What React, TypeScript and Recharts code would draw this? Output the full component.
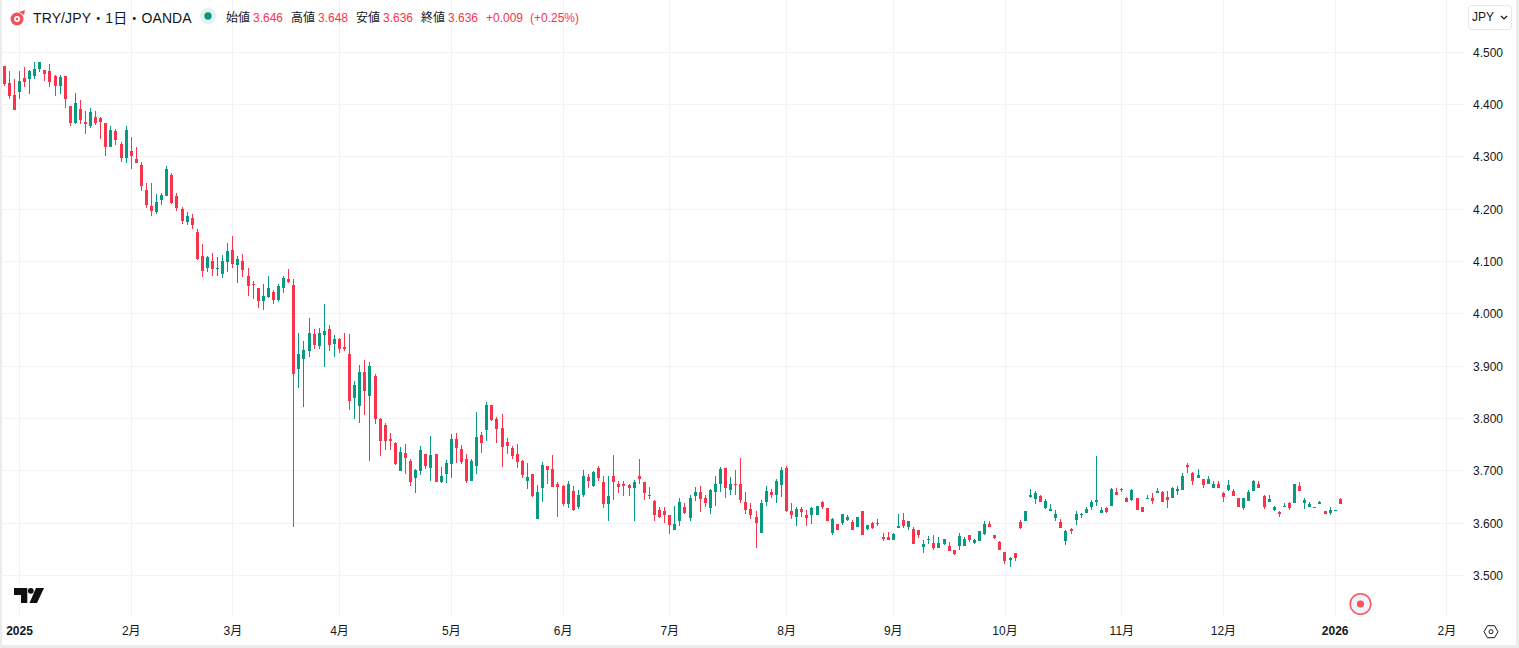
import React from "react";
import { ComposedChart, Bar, XAxis, YAxis, CartesianGrid } from "recharts";

const opens = [
  4.474,4.441,4.418,4.425,4.451,4.448,4.455,4.469,4.466,4.464,
  4.455,4.435,4.455,4.397,4.365,4.391,4.366,4.359,4.376,4.374,
  4.365,4.319,4.349,4.324,4.298,4.311,4.296,4.285,4.237,4.206,
  4.195,4.218,4.225,4.266,4.225,4.201,4.176,4.183,4.157,4.111,
  4.088,4.101,4.086,4.076,4.099,4.122,4.094,4.101,4.073,4.057,
  4.050,4.025,4.032,4.042,4.027,4.050,4.067,4.055,3.894,3.914,
  3.929,3.961,3.938,3.959,3.971,3.942,3.952,3.936,3.923,3.839,
  3.824,3.889,3.843,3.881,3.799,3.788,3.761,3.753,3.700,3.734,
  3.719,3.686,3.700,3.732,3.706,3.732,3.679,3.694,3.713,3.761,
  3.742,3.723,3.681,3.709,3.769,3.778,3.826,3.799,3.782,3.755,
  3.744,3.732,3.719,3.680,3.694,3.609,3.667,3.709,3.703,3.675,
  3.671,3.636,3.661,3.632,3.655,3.688,3.671,3.705,3.678,3.636,
  3.690,3.675,3.676,3.673,3.667,3.690,3.678,3.654,3.642,3.625,
  3.623,3.615,3.587,3.604,3.632,3.611,3.652,3.659,3.648,3.629,
  3.659,3.675,3.705,3.663,3.676,3.676,3.640,3.627,3.613,3.581,
  3.640,3.659,3.655,3.673,3.705,3.623,3.613,3.627,3.615,3.615,
  3.615,3.640,3.629,3.582,3.599,3.601,3.606,3.603,3.593,3.624,
  3.589,3.601,3.599,3.574,3.574,3.568,3.591,3.606,3.593,3.589,
  3.587,3.555,3.568,3.562,3.553,3.561,3.557,3.549,3.557,3.557,
  3.578,3.562,3.566,3.580,3.599,3.578,3.564,3.545,3.530,3.543,
  3.602,3.604,3.650,3.646,3.653,3.629,3.623,3.611,3.602,3.566,
  3.590,3.606,3.615,3.619,3.632,3.640,3.619,3.629,3.634,3.659,
  3.665,3.648,3.644,3.648,3.632,3.646,3.648,3.657,3.659,3.650,
  3.648,3.661,3.664,3.712,3.697,3.687,3.685,3.676,3.668,3.676,
  3.657,3.664,3.662,3.649,3.630,3.643,3.661,3.676,3.653,3.641,
  3.626,3.622,3.632,3.639,3.639,3.672,3.638,3.632,3.630,3.636,
  3.624,3.620,3.624,3.646,
];
const closes = [
  4.439,4.417,4.390,4.445,4.444,4.464,4.468,4.481,4.459,4.444,
  4.436,4.453,4.411,4.365,4.403,4.371,4.363,4.386,4.365,4.366,
  4.319,4.351,4.333,4.298,4.351,4.302,4.288,4.245,4.208,4.197,
  4.214,4.227,4.277,4.212,4.203,4.178,4.187,4.170,4.105,4.082,
  4.109,4.086,4.088,4.101,4.120,4.096,4.105,4.084,4.053,4.055,
  4.025,4.034,4.050,4.027,4.053,4.069,4.061,3.885,3.923,3.931,
  3.963,3.940,3.963,3.967,3.940,3.952,3.934,3.933,3.833,3.864,
  3.889,3.852,3.900,3.799,3.757,3.757,3.757,3.713,3.736,3.725,
  3.679,3.702,3.740,3.709,3.730,3.679,3.690,3.715,3.761,3.744,
  3.717,3.681,3.719,3.765,3.753,3.826,3.797,3.780,3.746,3.748,
  3.728,3.717,3.692,3.688,3.653,3.659,3.711,3.701,3.669,3.669,
  3.636,3.675,3.625,3.655,3.690,3.680,3.698,3.686,3.636,3.653,
  3.678,3.669,3.671,3.667,3.678,3.684,3.657,3.652,3.615,3.613,
  3.615,3.596,3.598,3.640,3.619,3.648,3.659,3.646,3.638,3.663,
  3.676,3.703,3.667,3.675,3.675,3.644,3.625,3.615,3.600,3.638,
  3.661,3.655,3.680,3.701,3.623,3.615,3.627,3.621,3.610,3.629,
  3.634,3.632,3.604,3.608,3.587,3.618,3.612,3.587,3.612,3.578,
  3.597,3.591,3.601,3.570,3.568,3.580,3.595,3.595,3.604,3.561,
  3.578,3.561,3.570,3.553,3.562,3.570,3.547,3.541,3.576,3.570,
  3.568,3.568,3.585,3.599,3.593,3.572,3.549,3.528,3.534,3.534,
  3.592,3.623,3.655,3.657,3.640,3.642,3.627,3.617,3.592,3.585,
  3.585,3.617,3.617,3.627,3.640,3.644,3.625,3.621,3.665,3.655,
  3.663,3.640,3.663,3.625,3.621,3.648,3.642,3.661,3.640,3.644,
  3.667,3.665,3.691,3.708,3.680,3.693,3.674,3.685,3.676,3.668,
  3.651,3.674,3.653,3.632,3.649,3.659,3.680,3.668,3.632,3.647,
  3.632,3.618,3.634,3.630,3.676,3.662,3.645,3.636,3.632,3.641,
  3.617,3.626,3.626,3.636,
];
const highs = [
  4.474,4.464,4.449,4.464,4.472,4.466,4.481,4.481,4.466,4.478,
  4.457,4.457,4.455,4.397,4.422,4.409,4.388,4.393,4.388,4.376,
  4.365,4.359,4.353,4.328,4.359,4.338,4.319,4.290,4.250,4.250,
  4.229,4.231,4.283,4.269,4.231,4.204,4.195,4.191,4.162,4.134,
  4.111,4.117,4.109,4.113,4.136,4.149,4.111,4.115,4.088,4.063,
  4.050,4.057,4.073,4.046,4.057,4.073,4.086,4.067,3.963,3.948,
  3.992,3.971,3.973,4.020,3.978,3.959,3.955,3.963,3.961,3.872,
  3.902,3.912,3.908,3.885,3.801,3.791,3.772,3.755,3.746,3.751,
  3.723,3.704,3.748,3.732,3.767,3.732,3.707,3.721,3.770,3.772,
  3.749,3.732,3.723,3.812,3.774,3.832,3.826,3.803,3.809,3.763,
  3.748,3.751,3.721,3.715,3.694,3.673,3.717,3.709,3.730,3.678,
  3.673,3.680,3.671,3.663,3.701,3.694,3.700,3.709,3.690,3.690,
  3.730,3.680,3.680,3.676,3.682,3.723,3.678,3.669,3.644,3.632,
  3.632,3.615,3.634,3.648,3.638,3.655,3.669,3.671,3.655,3.665,
  3.690,3.707,3.705,3.688,3.701,3.724,3.659,3.638,3.623,3.644,
  3.671,3.665,3.684,3.707,3.709,3.638,3.632,3.632,3.625,3.631,
  3.634,3.642,3.629,3.610,3.599,3.618,3.616,3.606,3.612,3.624,
  3.597,3.603,3.608,3.582,3.583,3.582,3.618,3.620,3.604,3.593,
  3.587,3.568,3.576,3.578,3.574,3.570,3.564,3.549,3.582,3.574,
  3.578,3.570,3.585,3.604,3.604,3.578,3.566,3.545,3.536,3.543,
  3.606,3.623,3.665,3.661,3.655,3.646,3.636,3.625,3.608,3.587,
  3.592,3.623,3.619,3.631,3.644,3.728,3.632,3.632,3.667,3.667,
  3.667,3.650,3.665,3.648,3.632,3.654,3.657,3.667,3.661,3.661,
  3.669,3.671,3.697,3.716,3.699,3.703,3.685,3.691,3.680,3.680,
  3.659,3.682,3.666,3.649,3.649,3.664,3.682,3.680,3.655,3.655,
  3.634,3.624,3.639,3.641,3.676,3.678,3.649,3.641,3.632,3.643,
  3.624,3.632,3.626,3.648,
];
const lows = [
  4.435,4.411,4.390,4.411,4.434,4.421,4.449,4.463,4.445,4.434,
  4.417,4.421,4.394,4.359,4.363,4.363,4.344,4.356,4.361,4.334,
  4.302,4.319,4.323,4.290,4.288,4.277,4.288,4.235,4.203,4.187,
  4.191,4.208,4.225,4.210,4.197,4.172,4.170,4.162,4.103,4.071,
  4.080,4.073,4.073,4.069,4.080,4.088,4.059,4.071,4.034,4.029,
  4.011,4.008,4.031,4.019,4.023,4.040,4.059,3.593,3.858,3.822,
  3.917,3.934,3.934,3.898,3.929,3.917,3.925,3.929,3.816,3.799,
  3.791,3.807,3.719,3.789,3.728,3.740,3.740,3.711,3.700,3.694,
  3.671,3.658,3.692,3.704,3.681,3.679,3.677,3.677,3.686,3.715,
  3.713,3.677,3.681,3.694,3.734,3.757,3.796,3.753,3.707,3.732,
  3.723,3.705,3.686,3.665,3.650,3.609,3.640,3.675,3.669,3.613,
  3.634,3.630,3.623,3.627,3.650,3.667,3.669,3.680,3.630,3.605,
  3.644,3.657,3.653,3.653,3.605,3.676,3.644,3.646,3.604,3.611,
  3.600,3.579,3.587,3.594,3.617,3.604,3.642,3.621,3.631,3.617,
  3.634,3.659,3.648,3.655,3.655,3.638,3.617,3.608,3.552,3.581,
  3.634,3.648,3.638,3.650,3.621,3.608,3.594,3.613,3.594,3.598,
  3.615,3.627,3.604,3.578,3.587,3.597,3.604,3.587,3.593,3.578,
  3.587,3.589,3.595,3.566,3.568,3.568,3.591,3.591,3.587,3.561,
  3.572,3.543,3.561,3.549,3.553,3.559,3.547,3.539,3.549,3.557,
  3.564,3.561,3.566,3.578,3.593,3.570,3.549,3.522,3.517,3.528,
  3.590,3.604,3.648,3.636,3.640,3.627,3.623,3.604,3.592,3.558,
  3.579,3.596,3.611,3.619,3.625,3.634,3.619,3.619,3.634,3.655,
  3.659,3.640,3.642,3.625,3.621,3.646,3.636,3.657,3.640,3.629,
  3.648,3.655,3.664,3.697,3.674,3.687,3.668,3.676,3.668,3.668,
  3.641,3.662,3.653,3.632,3.626,3.643,3.661,3.668,3.628,3.641,
  3.624,3.613,3.632,3.626,3.639,3.662,3.628,3.632,3.630,3.636,
  3.617,3.615,3.624,3.636,
];

const timeTicks = [3, 25, 45, 66, 88, 110, 131, 154, 175, 197, 220, 240, 262, 284];
const timeLabels = ["2025", "2月", "3月", "4月", "5月", "6月", "7月", "8月", "9月", "10月", "11月", "12月", "2026", "2月"];
const priceTicks = [3.5, 3.6, 3.7, 3.8, 3.9, 4.0, 4.1, 4.2, 4.3, 4.4, 4.5];
const xDomain: [number, number] = [-0.8406, 287.55];
const yDomain: [number, number] = [3.421, 4.5999];

const UP = "#089981";
const DOWN = "#f7344b";
const TEXT = "#131722";
const FONT = '"Liberation Sans", "Noto Sans CJK JP", sans-serif';

const data = opens.map((open, i) => ({
  i,
  open,
  close: closes[i],
  high: highs[i],
  low: lows[i],
  range: [lows[i], highs[i]],
}));

function Candle(props: any) {
  const { x, y, width, height, payload } = props;
  if (!payload || height == null) return null;
  const { open, close, high, low } = payload;
  const ratio = Math.abs(height) / (high - low);
  const top = Math.min(y, y + height);
  const yOf = (v: number) => top + (high - v) * ratio;
  const color = close < open ? DOWN : UP;
  const cx = Math.floor(x + width / 2);
  const by0 = Math.round(yOf(Math.max(open, close)));
  const by1 = Math.max(by0 + 1, Math.round(yOf(Math.min(open, close))));
  const wy0 = Math.round(top);
  const wy1 = Math.max(wy0 + 1, Math.round(top + Math.abs(height)));
  return (
    <g shapeRendering="crispEdges">
      <rect x={cx} y={wy0} width={1} height={wy1 - wy0} fill={color} />
      <rect x={cx - 1} y={by0} width={3} height={by1 - by0} fill={color} />
    </g>
  );
}

function TimeTick(props: any) {
  const { x, payload } = props;
  const k = timeTicks.indexOf(payload.value);
  const label = timeLabels[k];
  const bold = label === "2025" || label === "2026";
  return (
    <text x={x} y={635} textAnchor="middle" fontFamily={FONT} fontSize={12} fontWeight={bold ? 700 : 400} fill={TEXT}>
      {label}
    </text>
  );
}

const span = (x: number, text: string, color: string, size = 12): React.ReactNode => (
  <span key={x} style={{ position: "absolute", left: x, top: 18 - size * 0.62, fontSize: size, lineHeight: `${Math.round(size * 1.25)}px`, color, whiteSpace: "pre" }}>
    {text}
  </span>
);

export default function App() {
  return (
    <div style={{ position: "fixed", left: 0, top: 0, width: 1519, height: 648, background: "#ebebeb", overflow: "hidden", fontFamily: FONT }}>
      <div style={{ position: "absolute", left: 2, top: 0, width: 1514, height: 645, background: "#ffffff" }} />
      <div style={{ position: "absolute", left: 0, top: 0 }}>
        <ComposedChart width={1519} height={648} data={data} margin={{ top: 0, right: 0, bottom: 0, left: 0 }}>
          <CartesianGrid
            stroke="#f3f3f3"
            strokeWidth={1}
            shapeRendering="crispEdges"
            horizontalCoordinatesGenerator={({ offset }: any) =>
              priceTicks.map((t) => offset.top + (offset.height * (yDomain[1] - t)) / (yDomain[1] - yDomain[0]))
            }
            verticalCoordinatesGenerator={({ offset }: any) =>
              timeTicks.map((t) => offset.left + (offset.width * (t - xDomain[0])) / (xDomain[1] - xDomain[0]))
            }
          />
          <XAxis
            dataKey="i"
            type="number"
            scale="linear"
            domain={xDomain}
            allowDataOverflow
            ticks={timeTicks}
            interval={0}
            height={31}
            axisLine={false}
            tickLine={false}
            tick={<TimeTick />}
          />
          <YAxis
            orientation="right"
            type="number"
            domain={yDomain}
            allowDataOverflow
            ticks={priceTicks}
            interval={0}
            width={54}
            axisLine={false}
            tickLine={false}
            tickSize={0}
            tickMargin={8}
            tickFormatter={(v: number) => v.toFixed(3)}
            tick={{ fontFamily: FONT, fontSize: 12, fill: TEXT }}
          />
          <Bar dataKey="range" barSize={3} isAnimationActive={false} shape={<Candle />} />
        </ComposedChart>
      </div>

      {/* Header */}
      <svg style={{ position: "absolute", left: 8, top: 8 }} width={212} height={20}>
        <circle cx={9} cy={11} r={6.5} fill="#f0525a" />
        <circle cx={9} cy={11} r={3} fill="#ffffff" />
        <circle cx={9} cy={11} r={1.2} fill="#f0525a" />
        <path d="M11 4 L17 2 L16 7 Z" fill="#f0525a" />
        <circle cx={200} cy={8} r={8} fill="#e2f2ef" />
        <circle cx={200} cy={8} r={3.7} fill={UP} />
      </svg>
      <span style={{ position: "absolute", left: 33, top: 9, fontSize: 14, lineHeight: "18px", letterSpacing: 0.12, color: TEXT, whiteSpace: "pre" }}>TRY/JPY・1日・OANDA</span>
      {span(226, "始値", TEXT)}
      {span(253, "3.646", DOWN)}
      {span(291, "高値", TEXT)}
      {span(318, "3.648", DOWN)}
      {span(356, "安値", TEXT)}
      {span(383, "3.636", DOWN)}
      {span(421, "終値", TEXT)}
      {span(448, "3.636", DOWN)}
      {span(486, "+0.009", DOWN)}
      {span(530, "(+0.25%)", DOWN)}

      {/* Currency button */}
      <div style={{ position: "absolute", left: 1468, top: 5, width: 42, height: 23, border: "1px solid #e6e8ee", borderRadius: 4, background: "#fff", boxSizing: "content-box" }}>
        <span style={{ position: "absolute", left: 3, top: 4, fontSize: 12, lineHeight: "15px", color: TEXT }}>JPY</span>
        <svg style={{ position: "absolute", left: 31, top: 9 }} width={8} height={6}>
          <path d="M1 1 L4 4 L7 1" fill="none" stroke={TEXT} strokeWidth={1.2} />
        </svg>
      </div>

      {/* Logo */}
      <svg style={{ position: "absolute", left: 0, top: 580 }} width={60} height={30}>
        <path d="M14 8 H27.3 V23 H21 V15 H14 Z" fill="#0f0f0f" />
        <circle cx={30.8} cy={10.8} r={2.9} fill="#0f0f0f" />
        <path d="M36 8 H44 L37 23 H29.5 Z" fill="#0f0f0f" />
      </svg>

      {/* Live marker */}
      <svg style={{ position: "absolute", left: 1345, top: 589 }} width={32} height={32}>
        <circle cx={15.5} cy={15} r={10.3} fill="#f0f3fa" stroke="#f7525f" strokeWidth={1.5} />
        <circle cx={15.5} cy={15} r={3.6} fill="#f7525f" />
      </svg>

      {/* Settings */}
      <svg style={{ position: "absolute", left: 1481, top: 622 }} width={20} height={20}>
        <path d="M3 9.7 L6.5 3.7 H13.5 L17 9.7 L13.5 15.7 H6.5 Z" fill="none" stroke={TEXT} strokeWidth={1} />
        <circle cx={10} cy={9.7} r={2} fill="none" stroke={TEXT} strokeWidth={1} />
      </svg>
    </div>
  );
}
